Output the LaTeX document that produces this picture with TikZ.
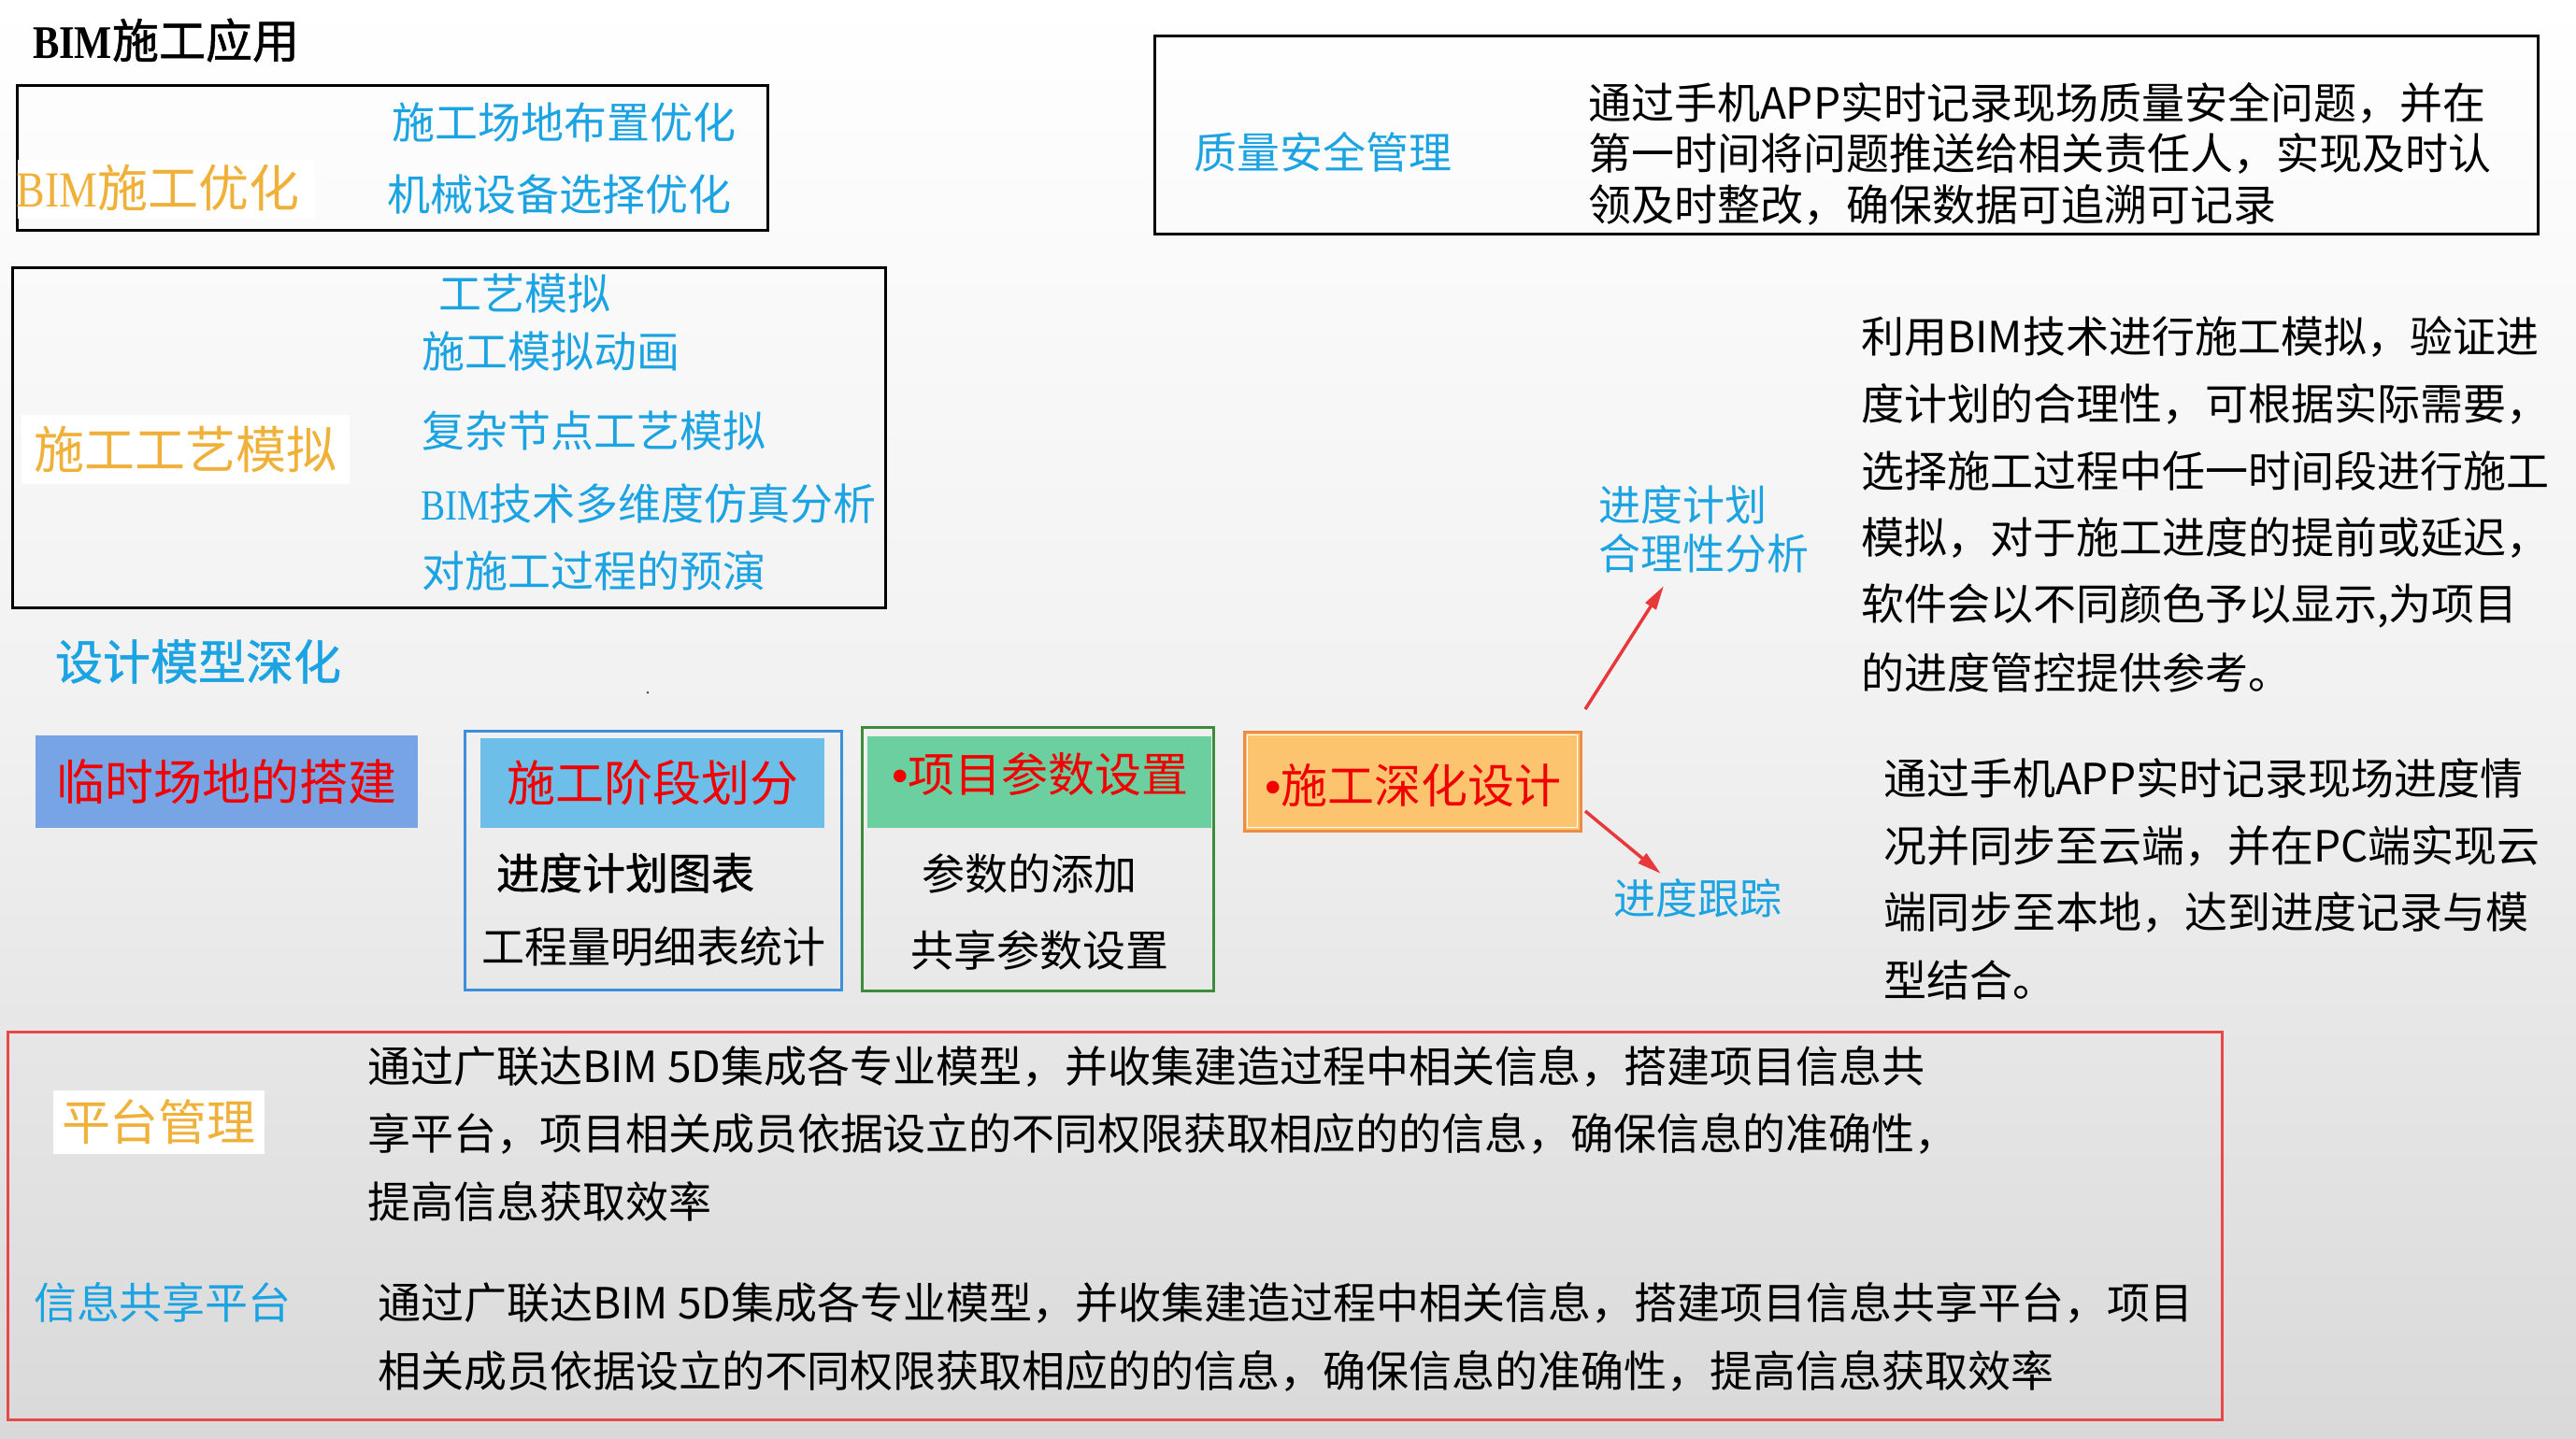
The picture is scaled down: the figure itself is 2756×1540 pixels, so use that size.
\documentclass[tikz,border=0pt]{standalone}
\usepackage{fontspec}
\setmainfont{Noto Sans CJK SC}
\newfontfamily\lser[FakeStretch=0.85]{Liberation Serif}
\newfontfamily\lsans{Liberation Sans}
\newfontfamily\cjkb[FakeBold=1]{Noto Sans CJK SC}
\usetikzlibrary{arrows.meta}
\newlength\pxu \setlength\pxu{0.1mm}
\newcommand\fpx[1]{\fontsize{#1\pxu}{1.2\dimexpr#1\pxu\relax}\selectfont}
\definecolor{cblue}{HTML}{1CA3E2}
\definecolor{corange}{HTML}{EFB13A}
\definecolor{cred}{HTML}{F00000}
\definecolor{ctemp}{HTML}{76A4E5}
\definecolor{chdrblue}{HTML}{6DBEE8}
\definecolor{cbluebd}{HTML}{3D8FDB}
\definecolor{chdrgreen}{HTML}{6CCF9F}
\definecolor{cgreenbd}{HTML}{3E8B3A}
\definecolor{corgfill}{HTML}{FCC46F}
\definecolor{corgbd}{HTML}{EE8C45}
\definecolor{carrow}{HTML}{E8383A}
\definecolor{credbd}{HTML}{E84848}
\definecolor{cdot}{HTML}{2E6B2E}
\definecolor{bgmid}{HTML}{F1F1F1}
\definecolor{bgbot}{HTML}{D9D9D9}
\begin{document}
\begin{tikzpicture}[x=0.1mm,y=-0.1mm,
  every node/.style={inner sep=0pt, outer sep=0pt},
  txt/.style={anchor=west, font=\fpx{46}},
  body/.style={txt, text=black},
  lbl/.style={txt, text=cblue},
  frame/.style={draw=black, line width=0.3mm},
  rect/.style 2 args={minimum width=#1*0.1mm, minimum height=#2*0.1mm},
  hl/.style={fill=white},
  rarr/.style={draw=carrow, line width=0.35mm, -{Triangle[length=2.6mm,width=1.3mm]}},
]
\useasboundingbox (0,0) rectangle (2756,1540);
\shade[top color=white, bottom color=bgbot, middle color=bgmid] (0,0) rectangle (2756,1540);

% title
\node[txt, font=\fpx{50}] (title) at (35,43) {{\lser\bfseries BIM}{\cjkb 施工应用}};

% box 1
\node[frame, rect={803}{155}] (b1) at (419.5,168.5) {};
\node[hl, rect={318}{63}] (b1h) at (178,202.5) {};
\node[txt, text=corange, font=\fpx{54}] (b1t) at (18,201) {{\lser BIM}施工优化};
\node[lbl] (b1a) at (419,131) {施工场地布置优化};
\node[lbl] (b1b) at (414,208) {机械设备选择优化};

% box 2
\node[frame, rect={934}{364}] (b2) at (480,468) {};
\node[hl, rect={351}{74}, text=corange, font=\fpx{54}] (b2h) at (198.5,481) {施工工艺模拟};
\node[lbl] (b2a) at (469,314) {工艺模拟};
\node[lbl] (b2b) at (451,376) {施工模拟动画};
\node[lbl] (b2c) at (451,461) {复杂节点工艺模拟};
\node[lbl] (b2d) at (450,539) {{\lser BIM}技术多维度仿真分析};
\node[lbl] (b2e) at (451,611) {对施工过程的预演};

% design
\node[txt, text=cblue, font=\fpx{51}] (sj) at (59,708) {\cjkb 设计模型深化};
\node[circle, fill=cdot, minimum size=0.3mm] (dot) at (693,741) {};

% temporary site
\node[fill=ctemp, rect={409}{99}, text=cred, font=\fpx{52}] (lin) at (242.5,836.5) {临时场地的搭建};

% stage group
\node[draw=cbluebd, line width=0.3mm, rect={403}{277}] (sg) at (698.5,920.5) {};
\node[fill=chdrblue, rect={368}{96}, text=cred, font=\fpx{52}] (sgh) at (698,838) {施工阶段划分};
\node[body] (sg1) at (531,934) {\cjkb 进度计划图表};
\node[body] (sg2) at (515,1013) {工程量明细表统计};

% parameter group
\node[draw=cgreenbd, line width=0.3mm, rect={376}{282}] (pg) at (1110,919) {};
\node[fill=chdrgreen, rect={368}{98}] (pgh) at (1112,837) {};
\node[txt, text=cred, font=\fpx{50}] (pght) at (954,828) {{\lsans •}项目参数设置};
\node[body] (pg1) at (986,935) {参数的添加};
\node[body] (pg2) at (974,1017) {共享参数设置};

% orange box
\node[fill=corgfill, draw=corgbd, line width=0.3mm, rect={360}{106}] (ob) at (1511,836) {};
\draw[white, line width=0.12mm] ([shift={(3.5,3.5)}]ob.north west) rectangle ([shift={(-3.5,-3.5)}]ob.south east);
\node[txt, text=cred, font=\fpx{50}] (obt) at (1353,841) {{\lsans •}施工深化设计};

% arrows and labels
\node[lbl, font=\fpx{45}] (jh1) at (1710,540) {进度计划};
\node[lbl, font=\fpx{45}] (jh2) at (1710,592) {合理性分析};
\node[lbl, font=\fpx{45}] (gz) at (1726,961) {进度跟踪};
\coordinate (u0) at ([shift={(5,-24)}]ob.north east);
\coordinate (u1) at (1780,627);
\draw[rarr] (u0) -- (u1);
\coordinate (d0) at ([shift={(5,-21)}]ob.south east);
\coordinate (d1) at (1777,935);
\draw[rarr] (d0) -- (d1);

% paragraph 1
\node[body] (p1a) at (1991,360) {利用BIM技术进行施工模拟，验证进};
\node[body] (p1b) at (1991,432) {度计划的合理性，可根据实际需要，};
\node[body] (p1c) at (1991,504) {选择施工过程中任一时间段进行施工};
\node[body] (p1d) at (1991,576) {模拟，对于施工进度的提前或延迟，};
\node[body] (p1e) at (1991,648) {软件会以不同颜色予以显示,为项目};
\node[body] (p1f) at (1991,720) {的进度管控提供参考。};

% paragraph 2
\node[body] (p2a) at (2015,833) {通过手机APP实时记录现场进度情};
\node[body] (p2b) at (2015,905) {况并同步至云端，并在PC端实现云};
\node[body] (p2c) at (2015,977) {端同步至本地，达到进度记录与模};
\node[body] (p2d) at (2015,1049) {型结合。};

% quality box
\node[frame, rect={1480}{212}] (qb) at (1975,144) {};
\node[lbl] (ql) at (1277,163) {质量安全管理};
\node[body] (q1) at (1699,110) {通过手机APP实时记录现场质量安全问题，并在};
\node[body] (q2) at (1699,164) {第一时间将问题推送给相关责任人，实现及时认};
\node[body] (q3) at (1699,220) {领及时整改，确保数据可追溯可记录};

% red box
\node[draw=credbd, line width=0.3mm, rect={2369}{415}] (rb) at (1192.5,1311.5) {};
\node[hl, rect={226}{68}, text=corange, font=\fpx{52}] (pt) at (170,1201) {平台管理};
\node[body] (r1) at (393,1141) {通过广联达BIM 5D集成各专业模型，并收集建造过程中相关信息，搭建项目信息共};
\node[body] (r2) at (393,1213) {享平台，项目相关成员依据设立的不同权限获取相应的的信息，确保信息的准确性，};
\node[body] (r3) at (393,1286) {提高信息获取效率};
\node[lbl] (xx) at (36,1394) {信息共享平台};
\node[body] (r4) at (404,1394) {通过广联达BIM 5D集成各专业模型，并收集建造过程中相关信息，搭建项目信息共享平台，项目};
\node[body] (r5) at (404,1467) {相关成员依据设立的不同权限获取相应的的信息，确保信息的准确性，提高信息获取效率};
\end{tikzpicture}
\end{document}
